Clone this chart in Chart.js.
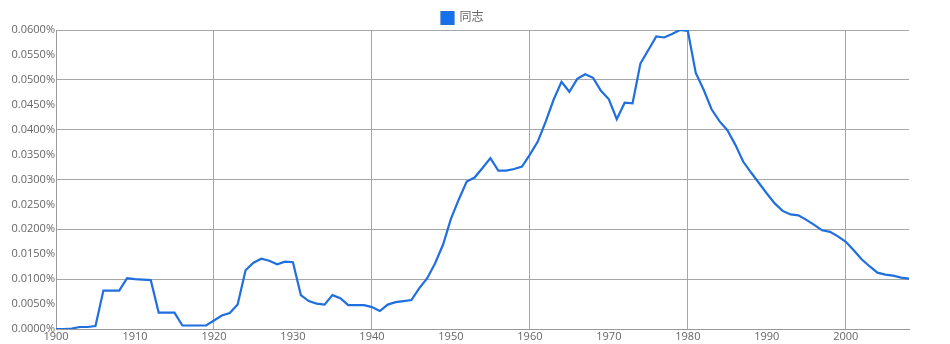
<!DOCTYPE html>
<html>
<head>
<meta charset="utf-8">
<script src="https://cdn.jsdelivr.net/npm/chart.js@4"></script>
<style>
  html, body { margin: 0; padding: 0; background: #fff; }
  #wrap { width: 950px; height: 344px; }
</style>
</head>
<body>
<div id="wrap"><canvas id="c" width="950" height="344"></canvas></div>
<script>
const seriesName = '同志';
const years = [];
for (let y = 1900; y <= 2008; y++) years.push(y);
const values = [
  0.0000, 0.0000, 0.0001, 0.0004, 0.0004, 0.0006, 0.0077, 0.0077, 0.0077, 0.0102,
  0.0100, 0.0099, 0.0098, 0.0033, 0.0033, 0.0033, 0.0007, 0.0007, 0.0007, 0.0007,
  0.0017, 0.0027, 0.0032, 0.0049, 0.0118, 0.0133, 0.0141, 0.0137, 0.0130, 0.0135,
  0.0134, 0.0068, 0.0056, 0.0051, 0.0049, 0.0068, 0.0062, 0.0048, 0.0048, 0.0048,
  0.0044, 0.0036, 0.0049, 0.0054, 0.0056, 0.0058, 0.0082, 0.0102, 0.0132, 0.0169,
  0.0221, 0.0260, 0.0296, 0.0304, 0.0323, 0.0343, 0.0318, 0.0318, 0.0321, 0.0326,
  0.0350, 0.0376, 0.0416, 0.0460, 0.0496, 0.0476, 0.0502, 0.0511, 0.0504, 0.0478,
  0.0461, 0.0421, 0.0454, 0.0453, 0.0533, 0.0560, 0.0587, 0.0585, 0.0592, 0.0600,
  0.0598, 0.0514, 0.0480, 0.0441, 0.0417, 0.0399, 0.0370, 0.0336, 0.0314, 0.0293,
  0.0272, 0.0252, 0.0237, 0.0230, 0.0228, 0.0219, 0.0209, 0.0198, 0.0195, 0.0186,
  0.0175, 0.0158, 0.0140, 0.0126, 0.0113, 0.0109, 0.0107, 0.0103, 0.0101
];
const xMin = 1900, xMax = 2008, xStep = 10, xGridStep = 20;
const yMin = 0, yMax = 0.06, yStep = 0.005, yGridStep = 0.01;

const points = years.map((yr, i) => ({ x: yr, y: values[i] }));
const FONT = "'Open Sans', 'Noto Sans CJK SC', sans-serif";
const GRID = '#a6a6a6';

const legendShift = {
  id: 'legendShift',
  afterLayout(chart) {
    const lg = chart.legend;
    if (lg) { lg.top += 4; lg.bottom += 4; lg.left += 8; lg.right += 8; }
  }
};

new Chart(document.getElementById('c'), {
  type: 'line',
  data: {
    datasets: [{
      label: seriesName,
      data: points,
      borderColor: '#1f6fde',
      backgroundColor: '#1570ef',
      borderWidth: 2.2,
      pointRadius: 0,
      tension: 0,
      fill: false
    }]
  },
  options: {
    responsive: false,
    animation: false,
    devicePixelRatio: 1,
    layout: { padding: { left: 0, right: 41, top: 0, bottom: 0 } },
    plugins: {
      legend: {
        position: 'top',
        labels: {
          boxWidth: 12, boxHeight: 12, padding: 8,
          color: '#666', font: { family: FONT, size: 12 }
        }
      },
      tooltip: { enabled: false }
    },
    scales: {
      x: {
        type: 'linear', min: xMin, max: xMax,
        afterFit(s) { s.height = 15; },
        border: { display: true, color: '#999', width: 1 },
        grid: {
          drawTicks: false,
          color: ctx => (ctx.tick && ctx.tick.value !== xMin && ctx.tick.value % xGridStep === 0) ? GRID : 'rgba(0,0,0,0)',
          lineWidth: 1
        },
        ticks: {
          stepSize: xStep, includeBounds: false, maxRotation: 0, autoSkip: false,
          padding: 1, color: '#666', font: { family: FONT, size: 11 },
          callback: v => String(v)
        }
      },
      y: {
        type: 'linear', min: yMin, max: yMax,
        afterFit(s) { s.width = 56; },
        border: { display: true, color: '#999', width: 1 },
        grid: {
          drawTicks: false,
          color: ctx => {
            if (!ctx.tick) return 'rgba(0,0,0,0)';
            const r = Math.round(ctx.tick.value / yStep);
            return (r % Math.round(yGridStep / yStep) === 0) ? GRID : 'rgba(0,0,0,0)';
          },
          lineWidth: 1
        },
        ticks: {
          stepSize: yStep, includeBounds: false, autoSkip: false,
          padding: 1, color: '#666', font: { family: FONT, size: 11 },
          callback: v => v.toFixed(4) + '%'
        }
      }
    }
  },
  plugins: [legendShift]
});
</script>
</body>
</html>
